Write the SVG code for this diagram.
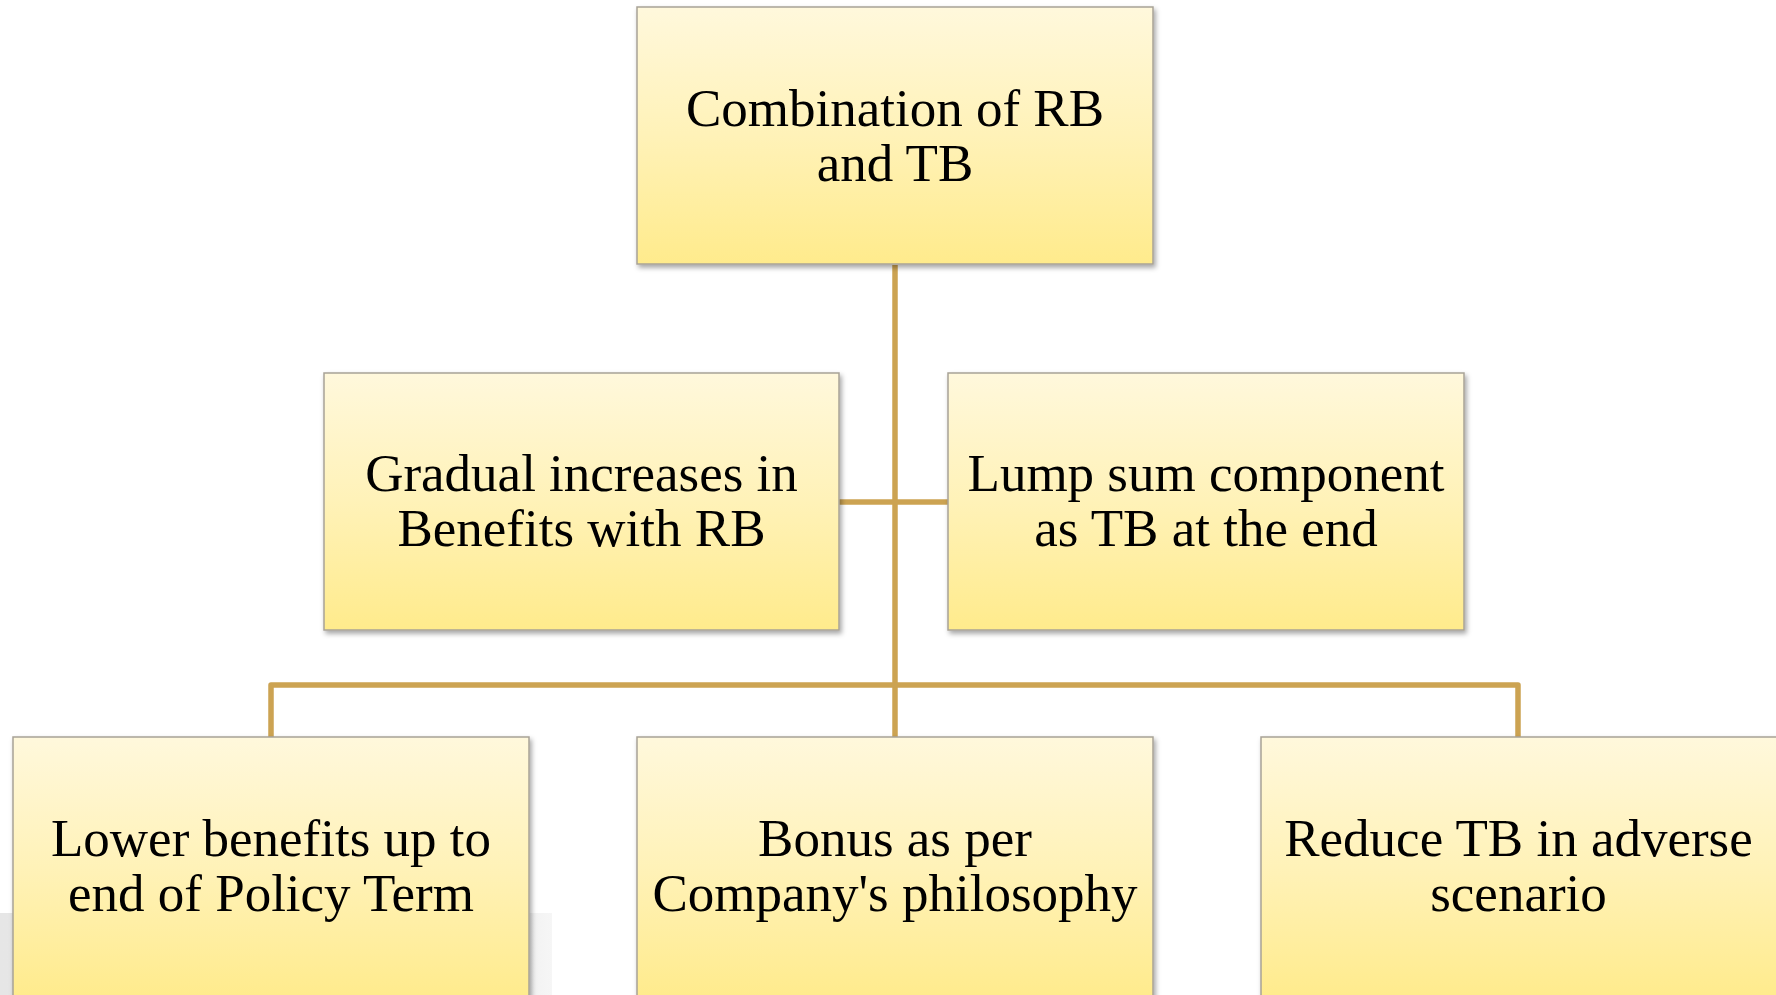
<svg xmlns="http://www.w3.org/2000/svg" width="1776" height="995" viewBox="0 0 1776 995">
  <defs>
    <linearGradient id="boxFill" x1="0" y1="0" x2="0" y2="1">
      <stop offset="0" stop-color="#fff8dc"/>
      <stop offset="0.5" stop-color="#fff2b8"/>
      <stop offset="1" stop-color="#ffeb8c"/>
    </linearGradient>
    <linearGradient id="ghost" x1="0" y1="0" x2="1" y2="0">
      <stop offset="0" stop-color="#e6e6e6"/>
      <stop offset="0.9" stop-color="#ececec"/>
      <stop offset="1" stop-color="#f6f6f6"/>
    </linearGradient>
    <filter id="shadow" x="-5%" y="-5%" width="112%" height="115%">
      <feDropShadow dx="2" dy="3" stdDeviation="2.5" flood-color="#000000" flood-opacity="0.35"/>
    </filter>
  </defs>
  <style>
    .box { fill: url(#boxFill); stroke: #a8a396; stroke-width: 1.5; filter: url(#shadow); }
    .lbl { font-family: "Liberation Serif", "Times New Roman", serif; font-size: 53px; fill: #000000; text-anchor: middle; }
    .conn { fill: none; stroke: #cca352; stroke-width: 5.5; stroke-linejoin: round; }
  </style>
  <rect width="1776" height="995" fill="#ffffff"/>
  <rect x="0" y="913" width="552" height="82" fill="url(#ghost)"/>

  <g id="connectors">
    <line class="conn" x1="895" y1="265" x2="895" y2="737"/>
    <line class="conn" x1="839" y1="502" x2="948" y2="502"/>
    <polyline class="conn" points="271,737 271,685 1518,685 1518,737"/>
  </g>

  <g id="node-top">
    <rect class="box" x="637" y="7" width="516" height="257"/>
    <text class="lbl" x="895" y="126">Combination of RB</text>
    <text class="lbl" x="895" y="181">and TB</text>
  </g>
  <g id="node-gradual">
    <rect class="box" x="324" y="373" width="515" height="257"/>
    <text class="lbl" x="581.5" y="491">Gradual increases in</text>
    <text class="lbl" x="581.5" y="546">Benefits with RB</text>
  </g>
  <g id="node-lumpsum">
    <rect class="box" x="948" y="373" width="516" height="257"/>
    <text class="lbl" x="1206" y="491">Lump sum component</text>
    <text class="lbl" x="1206" y="546">as TB at the end</text>
  </g>
  <g id="node-lower">
    <rect class="box" x="13" y="737" width="516" height="262"/>
    <text class="lbl" x="271" y="856">Lower benefits up to</text>
    <text class="lbl" x="271" y="911">end of Policy Term</text>
  </g>
  <g id="node-bonus">
    <rect class="box" x="637" y="737" width="516" height="262"/>
    <text class="lbl" x="895" y="856">Bonus as per</text>
    <text class="lbl" x="895" y="911">Company's philosophy</text>
  </g>
  <g id="node-reduce">
    <rect class="box" x="1261" y="737" width="520" height="262"/>
    <text class="lbl" x="1518.5" y="856">Reduce TB in adverse</text>
    <text class="lbl" x="1518.5" y="911">scenario</text>
  </g>
</svg>
